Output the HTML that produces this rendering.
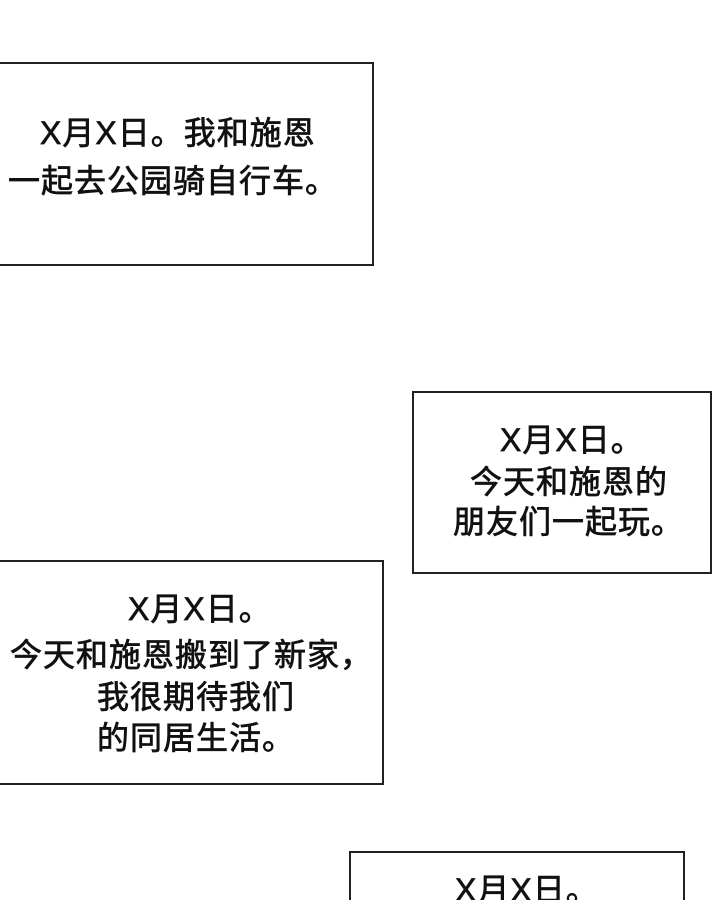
<!DOCTYPE html>
<html><head><meta charset="utf-8"><style>
html,body{margin:0;padding:0;background:#fff;width:720px;height:900px;overflow:hidden;position:relative}
.b{position:absolute;border:2px solid #222;background:#fff;box-sizing:border-box}
.t{position:absolute;font-family:"Liberation Sans","Noto Sans CJK SC",sans-serif;font-size:32px;line-height:32px;color:#111;white-space:nowrap;letter-spacing:1px;font-weight:normal;-webkit-text-stroke:0.7px #111}
</style></head><body>
<div class="b" style="left:-4px;top:62px;width:378px;height:204px"></div>
<div class="t" style="left:40px;top:117px">X月X日。我和施恩</div>
<div class="t" style="left:8px;top:165px">一起去公园骑自行车。</div>

<div class="b" style="left:412px;top:391px;width:300px;height:183px"></div>
<div class="t" style="left:500px;top:424px">X月X日。</div>
<div class="t" style="left:470px;top:466px">今天和施恩的</div>
<div class="t" style="left:453px;top:506px">朋友们一起玩。</div>

<div class="b" style="left:-4px;top:560px;width:388px;height:225px"></div>
<div class="t" style="left:128px;top:593px">X月X日。</div>
<div class="t" style="left:10px;top:639px">今天和施恩搬到了新家，</div>
<div class="t" style="left:97px;top:681px">我很期待我们</div>
<div class="t" style="left:97px;top:722px">的同居生活。</div>

<div class="b" style="left:349px;top:851px;width:336px;height:80px"></div>
<div class="t" style="left:455px;top:874px">X月X日。</div>
</body></html>
